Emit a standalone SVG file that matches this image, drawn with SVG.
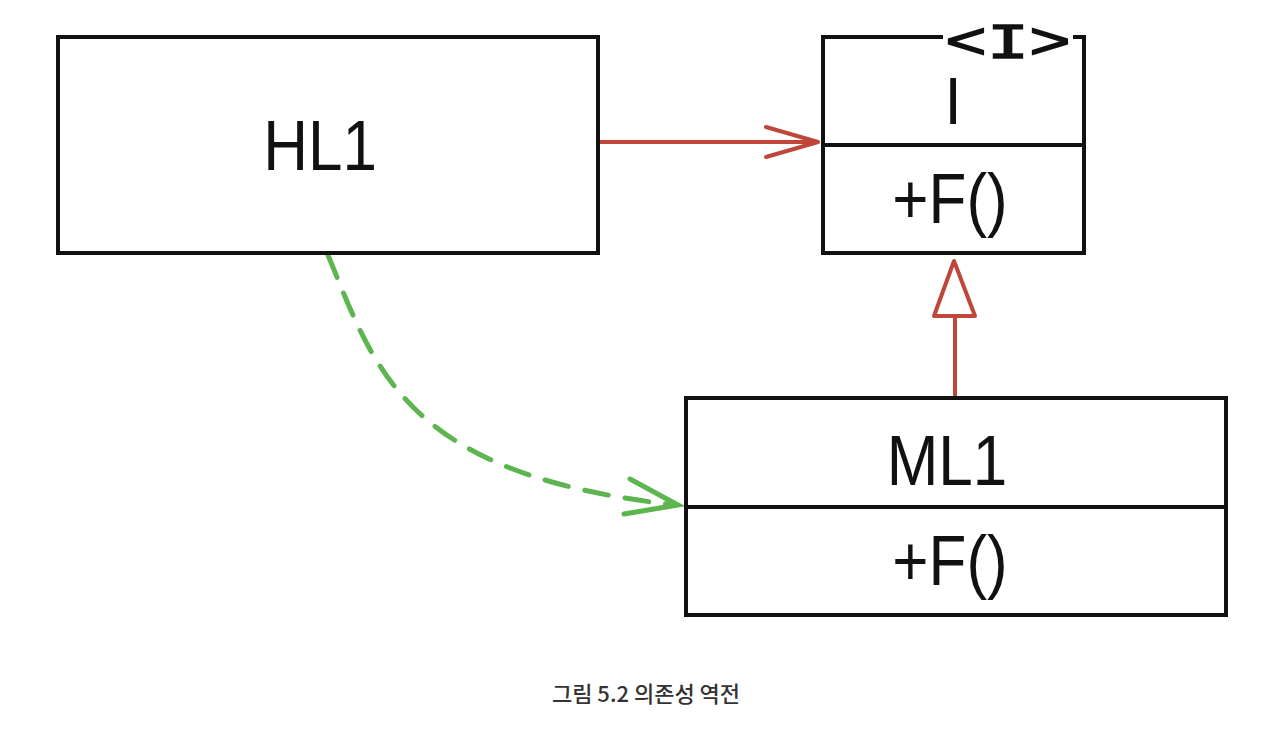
<svg xmlns="http://www.w3.org/2000/svg" width="1266" height="738" viewBox="0 0 1266 738">
<style>
.box{fill:#fff;stroke:#111;stroke-width:4}
.ln{fill:none;stroke:#111;stroke-width:4}
.lbl{font-family:"Liberation Sans",Arial,sans-serif;font-size:62px;fill:#111;text-anchor:middle}
.red{fill:none;stroke:#c0463a;stroke-width:4;stroke-linecap:round;stroke-linejoin:round}
.green{fill:none;stroke:#5db54f;stroke-width:5;stroke-linecap:round}
.cap{font-family:"Noto Sans CJK KR","Noto Sans",sans-serif;font-size:22px;font-weight:500;fill:#333;text-anchor:middle}
</style>
<rect width="1266" height="738" fill="#fff"/>
<g id="connectors">
  <path class="red" d="M597,142 H818 M766,127 L818,142 L766,157"/>
  <path class="red" d="M955,400 V316 M954,261 L934,316 H975 Z"/>
  <path class="green" d="M328,255 C375,370 405,475 676,505" stroke-dasharray="24,17"/>
  <path class="green" d="M630,479 L678,505 L624,514"/>
</g>
<g id="HL1">
  <rect class="box" x="58" y="37" width="540" height="216"/>
  <text class="lbl" transform="translate(320,170) scale(1,1.14)">HL1</text>
</g>
<g id="I">
  <path class="ln" d="M943,37 H823 V253 H1084 V37 H1073"/>
  <line class="ln" x1="823" y1="145" x2="1084" y2="145"/>
  <text x="945" y="58" font-family="'Liberation Mono','Courier New',monospace" font-size="50" fill="#111" stroke="#111" stroke-width="1.6" textLength="126" lengthAdjust="spacingAndGlyphs">&lt;I&gt;</text>
  <text class="lbl" transform="translate(953,124) scale(1,1.08)">I</text>
  <text class="lbl" transform="translate(950,223) scale(1,1.14)">+F()</text>
</g>
<g id="ML1">
  <rect class="box" x="686" y="398" width="540" height="217"/>
  <line class="ln" x1="686" y1="507" x2="1226" y2="507"/>
  <text class="lbl" transform="translate(947,485) scale(1,1.14)">ML1</text>
  <text class="lbl" transform="translate(950,585) scale(1,1.14)">+F()</text>
</g>
<text class="cap" x="646" y="702">그림 5.2 의존성 역전</text>
</svg>
